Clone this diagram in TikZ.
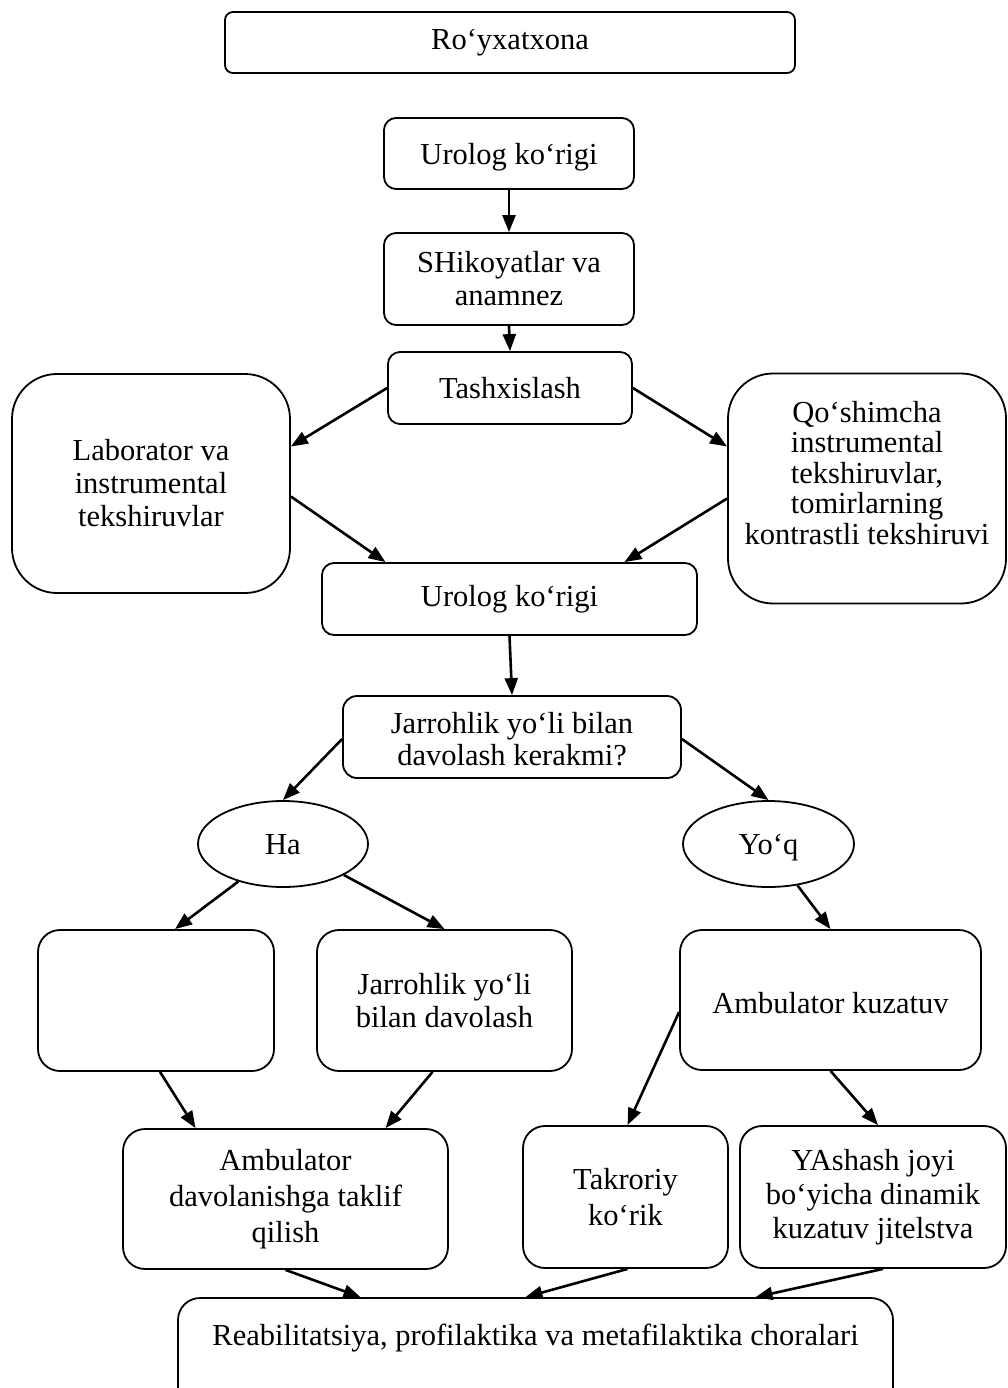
\documentclass[tikz,border=0pt]{standalone}
\usepackage{fontspec}
\setmainfont{Liberation Serif}
\usetikzlibrary{arrows.meta,shapes.geometric,calc}
\begin{document}
\begin{tikzpicture}[x=1pt,y=-1pt,
  txt/.style={align=center,inner sep=0pt,font=\fontsize{30.5pt}{33pt}\selectfont},
  box/.style={draw,line width=1.8pt,rounded corners=#1,txt},
  box/.default=12pt,
  oval/.style={draw,ellipse,line width=1.8pt,txt,text height=22pt,text depth=2pt},
  arr/.style={line width=2.6pt,-{Triangle[length=17pt,width=13pt]}}]
\fill[white] (0,0) rectangle (1008,1388);
\clip (0,0) rectangle (1008,1388);
% nodes
\node[box=8pt, minimum width=570pt, minimum height=61pt] (roy) at (510,42.5) {Ro‘yxatxona};
\node[box, minimum width=250pt, minimum height=71pt] (uro1) at (509,153.5) {};
\node[txt] (uro1t) at (509,157) {Urolog ko‘rigi};
\node[box, minimum width=250pt, minimum height=92pt] (shik) at (509,279) {SHikoyatlar va\\anamnez};
\node[box, minimum width=244pt, minimum height=72pt] (tash) at (510,388) {Tashxislash};
\node[box=45pt, minimum width=278pt, minimum height=219pt] (lab) at (151,483.5) {Laborator va\\instrumental\\tekshiruvlar};
\node[box=45pt, minimum width=278pt, minimum height=230pt] (qos) at (867,488.5) {};
\node[txt, font=\fontsize{30.5pt}{30.5pt}\selectfont] (qost) at (867,473) {Qo‘shimcha\\instrumental\\tekshiruvlar,\\tomirlarning\\kontrastli tekshiruvi};
\node[box, minimum width=375pt, minimum height=72pt] (uro2) at (509.5,599) {Urolog ko‘rigi};
\node[box=14pt, minimum width=338pt, minimum height=82pt] (kerak) at (512,737) {};
\node[txt, font=\fontsize{30.5pt}{32pt}\selectfont] (kerakt) at (512,739) {Jarrohlik yo‘li bilan\\davolash kerakmi?};
\node[oval, minimum width=170pt, minimum height=86pt] (ha) at (283,844) {Ha};
\node[oval, minimum width=171pt, minimum height=86pt] (yoq) at (768.5,844) {Yo‘q};
\node[box=22pt, minimum width=236pt, minimum height=141pt] (empty) at (156,1000.5) {};
\node[box=22pt, minimum width=255pt, minimum height=141pt] (jar) at (444.5,1000.5) {Jarrohlik yo‘li\\bilan davolash};
\node[box=22pt, minimum width=301pt, minimum height=140pt] (amb) at (830.5,1000) {};
\node[txt] (ambt) at (830.5,1003) {Ambulator kuzatuv};
\node[box=22pt, minimum width=325pt, minimum height=140pt, font=\fontsize{30.5pt}{36pt}\selectfont] (ambd) at (285.5,1199) {Ambulator\\davolanishga taklif\\qilish};
\node[box=22pt, minimum width=205pt, minimum height=142pt, font=\fontsize{30.5pt}{36pt}\selectfont] (tak) at (625.5,1197) {Takroriy\\ko‘rik};
\node[box=22pt, minimum width=266pt, minimum height=142pt, font=\fontsize{30.5pt}{34pt}\selectfont] (yash) at (873,1197) {YAshash joyi\\bo‘yicha dinamik\\kuzatuv jitelstva};
\node[box=22pt, minimum width=715pt, minimum height=122pt] (reab) at (535.5,1359) {};
\node[txt] (reabt) at (535.5,1338) {Reabilitatsiya, profilaktika va metafilaktika choralari};
% connectors
\draw[arr] (uro1.south) -- (shik.north);
\draw[arr] (shik.south) -- (tash.north);
\draw[arr] (tash.west) -- ([yshift=37pt]lab.east);
\draw[arr] ([yshift=-13pt]lab.east) -- ([xshift=-124pt]uro2.north);
\draw[arr] (tash.east) -- ([yshift=42pt]qos.west);
\draw[arr] ([yshift=-10pt]qos.west) -- ([xshift=115pt]uro2.north);
\draw[arr] (uro2.south) -- (kerak.north);
\draw[arr] ([yshift=-2pt]kerak.west) -- (ha.north);
\draw[arr] ([yshift=-2pt]kerak.east) -- (yoq.north);
\draw[arr] (ha.220) -- ([xshift=19pt]empty.north);
\draw[arr] (ha.333) -- (jar.north);
\draw[arr] (yoq.305) -- (amb.north);
\draw[arr] ([xshift=4pt]empty.south) -- ([xshift=-90pt]ambd.north);
\draw[arr] ([xshift=-12pt]jar.south) -- ([xshift=100pt]ambd.north);
\draw[arr] ([yshift=-12pt]amb.west) -- ([xshift=2pt]tak.north);
\draw[arr] (amb.south) -- ([xshift=5pt]yash.north);
\draw[arr] (ambd.south) -- ([xshift=-175pt]reab.north);
\draw[arr] ([xshift=2pt]tak.south) -- ([xshift=-10pt]reab.north);
\draw[arr] ([xshift=10pt]yash.south) -- ([xshift=220pt]reab.north);
\end{tikzpicture}
\end{document}
